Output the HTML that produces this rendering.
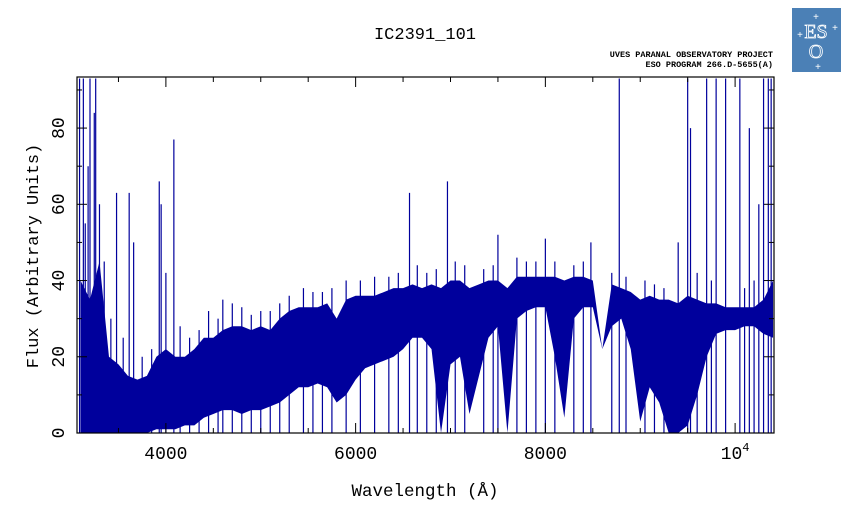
<!DOCTYPE html>
<html><head><meta charset="utf-8"><style>
body{margin:0;background:#fff;width:851px;height:511px;overflow:hidden}
svg text{font-family:"Liberation Mono",monospace}
</style></head><body>
<svg width="851" height="511" xmlns="http://www.w3.org/2000/svg">
<text x="425" y="39" text-anchor="middle" font-size="17">IC2391_101</text>
<text x="773" y="57" text-anchor="end" font-size="8.5" style="font-weight:bold">UVES PARANAL OBSERVATORY PROJECT</text>
<text x="773" y="67" text-anchor="end" font-size="8.5" style="font-weight:bold">ESO PROGRAM 266.D-5655(A)</text>
<g>
<rect x="792" y="8" width="49" height="64" fill="#4b80b6"/>
<text x="816" y="38" text-anchor="middle" font-size="20" fill="none" stroke="#fff" stroke-width="0.8" style="font-family:'Liberation Serif',serif">ES</text>
<text x="816" y="58" text-anchor="middle" font-size="20" fill="none" stroke="#fff" stroke-width="0.8" style="font-family:'Liberation Serif',serif">O</text>
<text x="816" y="20" text-anchor="middle" font-size="10" fill="#fff">+</text>
<text x="800" y="38" text-anchor="middle" font-size="10" fill="#fff">+</text>
<text x="835" y="31" text-anchor="middle" font-size="10" fill="#fff">+</text>
<text x="818" y="70" text-anchor="middle" font-size="10" fill="#fff">+</text>
</g>
<g id="plot"></g>
<text x="425" y="496" text-anchor="middle" font-size="17.5">Wavelength (Å)</text>
<text transform="translate(38,256) rotate(-90)" text-anchor="middle" font-size="17">Flux (Arbitrary Units)</text>
</svg>
<script>
const wavelengths=[3100,3200,3300,3400,3500,3600,3700,3800,3900,4000,4100,4200,4300,4400,4500,4600,4700,4800,4900,5000,5100,5200,5300,5400,5500,5600,5700,5800,5900,6000,6100,6200,6300,6400,6500,6600,6700,6800,6900,7000,7100,7200,7300,7400,7500,7600,7700,7800,7900,8000,8100,8200,8300,8400,8500,8600,8700,8800,8900,9000,9100,9200,9300,9400,9500,9600,9700,9800,9900,10000,10100,10200,10300,10400];
const fluxUpper=[40,35,45,20,18,15,14,15,20,22,20,20,22,25,25,27,28,28,27,28,27,30,32,33,33,33,34,30,35,36,36,36,37,38,38,39,38,39,38,40,40,38,39,40,40,38,41,41,41,41,41,40,41,41,40,22,39,38,37,35,36,35,35,34,36,35,34,34,33,33,33,33,35,40];
const fluxLower=[0,0,0,0,0,0,0,0,1,1,1,2,2,4,5,6,6,5,6,6,7,8,10,12,12,13,12,8,10,14,17,18,19,20,22,25,25,22,0,18,20,5,15,25,28,0,30,32,33,33,20,4,30,33,33,22,28,30,22,3,12,8,0,0,2,10,20,26,27,27,28,28,26,25];
const spikeWave=[3090,3130,3200,3260,3180,3245,3350,3480,3613,3660,3930,3950,4084,4000,4600,5000,6568,6968,7500,8000,8480,8779,9500,9530,9700,9800,9900,10050,10150,10300,10350,10380,9400,10250,3150,3300,3420,3550,3750,3850,4150,4250,4350,4450,4550,4700,4800,4900,5100,5200,5300,5450,5550,5650,5750,5900,6050,6200,6350,6450,6650,6750,6850,7050,7150,7350,7450,7700,7800,7900,8100,8300,8400,8700,8850,9050,9150,9250,9600,9750,10100,10200];
const spikeFlux=[93,93,93,93,70,84,45,63,63,50,66,60,77,42,35,32,63,66,52,51,50,93,93,80,93,93,93,93,80,93,93,93,50,60,55,60,30,25,20,22,28,25,27,32,30,34,33,31,32,34,36,38,37,37,38,40,40,41,41,42,44,42,43,45,44,43,44,46,45,45,45,44,45,42,41,40,39,38,42,40,38,40];
const xTicks=[4000,6000,8000,10000];
const xTickLabels=["4000","6000","8000","10"];
const yTicks=[0,20,40,60,80];

const L=77,R=774,T=77,B=433,xMin=3063,xMax=10410,yMin=0,yMax=93.4;
const X=w=>L+(w-xMin)/(xMax-xMin)*(R-L);
const Y=v=>B-(v-yMin)/(yMax-yMin)*(B-T);
const NS='http://www.w3.org/2000/svg';
const g=document.getElementById('plot');
function mk(t,a){const e=document.createElementNS(NS,t);for(const k in a)e.setAttribute(k,a[k]);g.appendChild(e);return e;}
const clip=mk('clipPath',{id:'cp'});
const cr=document.createElementNS(NS,'rect');cr.setAttribute('x',L);cr.setAttribute('y',T);cr.setAttribute('width',R-L);cr.setAttribute('height',B-T);clip.appendChild(cr);
let pts=wavelengths.map((w,i)=>X(w)+','+Y(fluxUpper[i]));
for(let i=wavelengths.length-1;i>=0;i--)pts.push(X(wavelengths[i])+','+Y(fluxLower[i]));
const band=mk('polygon',{points:pts.join(' '),fill:'#00009c','clip-path':'url(#cp)'});


spikeWave.forEach((w,i)=>{
 const s=mk('line',{x1:X(w),x2:X(w),y1:B,y2:Y(spikeFlux[i]),stroke:'#00009c','stroke-width':1.2,'clip-path':'url(#cp)'});
 
 
});
const fr=mk('rect',{x:L,y:T,width:R-L,height:B-T,fill:'none',stroke:'#000','stroke-width':1.2});


for(let w=3500;w<=10400;w+=500){const big=w%2000===0;const l=big?10:5;
 mk('line',{x1:X(w),x2:X(w),y1:B,y2:B-l,stroke:'#000'});mk('line',{x1:X(w),x2:X(w),y1:T,y2:T+l,stroke:'#000'});}
xTicks.forEach((w,i)=>{const t=mk('text',{x:X(w),y:459,'text-anchor':'middle','font-size':18});t.textContent=xTickLabels[i];
 
 
 if(w===10000){const s=document.createElementNS(NS,'tspan');s.setAttribute('dy','-8');s.setAttribute('font-size','12');s.textContent='4';t.appendChild(s);}});
for(let v=0;v<=90;v+=10){const l=v%20===0?10:5;
 mk('line',{x1:L,x2:L+l,y1:Y(v),y2:Y(v),stroke:'#000'});mk('line',{x1:R,x2:R-l,y1:Y(v),y2:Y(v),stroke:'#000'});}
yTicks.forEach(v=>{const t=mk('text',{transform:`translate(64,${Y(v)}) rotate(-90)`,'text-anchor':'middle','font-size':18});t.textContent=v;
 
 });
</script>
</body></html>
